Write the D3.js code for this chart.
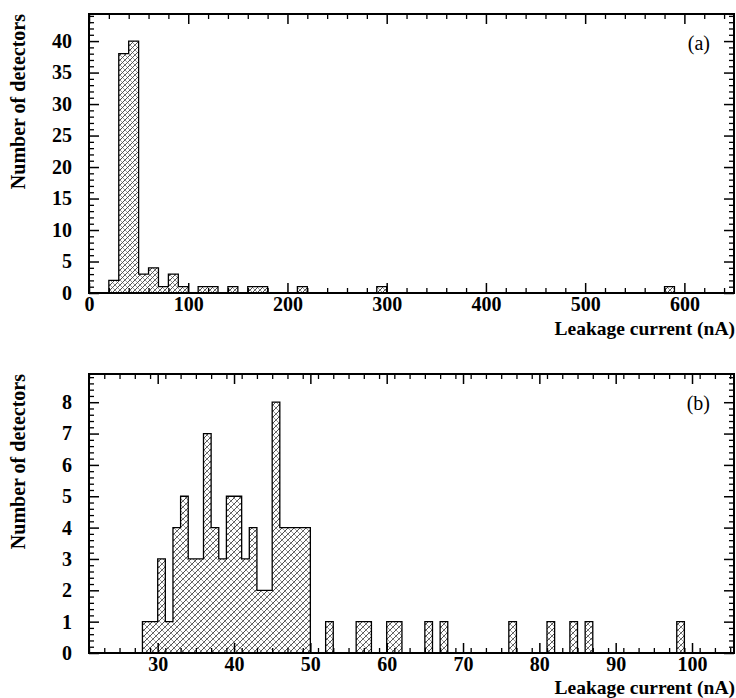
<!DOCTYPE html>
<html>
<head>
<meta charset="utf-8">
<script src="https://cdn.jsdelivr.net/npm/d3@7"></script>
<style>
    body { margin: 0; background: #fff; }
</style>
</head>
<body>
<svg id="chart"></svg>
<script>
// panel (a): 10 nA bins, lower edge + count
var edgesA = [20, 30, 40, 50, 60, 70, 80, 90, 110, 120, 140, 160, 170, 210, 290, 580]
var countsA = [2, 38, 40, 3, 4, 1, 3, 1, 1, 1, 1, 1, 1, 1, 1, 1]
var xTicksA = [0, 100, 200, 300, 400, 500, 600]
var yTicksA = [0, 5, 10, 15, 20, 25, 30, 35, 40]

// panel (b): 1 nA bins
var edgesB = [28, 29, 30, 31, 32, 33, 34, 35, 36, 37, 38, 39, 40, 41, 42, 43, 44, 45, 46, 47, 48, 49,
    52, 56, 57, 60, 61, 65, 67, 76, 81, 84, 86, 98]
var countsB = [1, 1, 3, 1, 4, 5, 3, 3, 7, 4, 3, 5, 5, 3, 4, 2, 2, 8, 4, 4, 4, 4,
    1, 1, 1, 1, 1, 1, 1, 1, 1, 1, 1, 1]
var xTicksB = [30, 40, 50, 60, 70, 80, 90, 100]
var yTicksB = [0, 1, 2, 3, 4, 5, 6, 7, 8]

var dimensions = {
    width: 736,
    height: 698,
    left: 89,
    right: 734
}

var font = "'Liberation Serif', 'Times New Roman', serif"

var svg = d3.select("#chart")
    .attr("width", dimensions.width)
    .attr("height", dimensions.height)

// cross hatch fill
var defs = svg.append("defs")
function hatch(id, s) {
    var pat = defs.append("pattern")
        .attr("id", id)
        .attr("patternUnits", "userSpaceOnUse")
        .attr("width", s)
        .attr("height", s)
    pat.append("path")
        .attr("d", "M0," + s + "L" + s + ",0M-1,1L1,-1M" + (s - 1) + "," + (s + 1) + "L" + (s + 1) + "," + (s - 1))
        .attr("stroke", "#111")
        .attr("stroke-width", 0.75)
    pat.append("path")
        .attr("d", "M0,0L" + s + "," + s + "M-1," + (s - 1) + "L1," + (s + 1) + "M" + (s - 1) + ",-1L" + (s + 1) + ",1")
        .attr("stroke", "#555")
        .attr("stroke-width", 0.6)
}
hatch("hatchA", 5)
hatch("hatchB", 6)

function outlinePath(edges, counts, w, x, y) {
    var p = d3.path()
    var i = 0
    while (i < edges.length) {
        p.moveTo(x(edges[i]), y(0))
        var j = i
        while (true) {
            p.lineTo(x(edges[j]), y(counts[j]))
            p.lineTo(x(edges[j] + w), y(counts[j]))
            if (j + 1 < edges.length && edges[j + 1] === edges[j] + w) j++
            else break
        }
        p.lineTo(x(edges[j] + w), y(0))
        p.closePath()
        i = j + 1
    }
    return p.toString()
}

function styleText(sel, weight, size) {
    sel.attr("font-family", font)
        .attr("font-size", size || 20)
        .attr("font-weight", weight)
        .attr("fill", "black")
}

function drawPanel(opt) {
    var top = opt.top, bottom = opt.bottom
    var x = d3.scaleLinear().domain(opt.xDomain).range([dimensions.left, dimensions.right])
    var y = d3.scaleLinear().domain(opt.yDomain).range([bottom, top])
    var g = svg.append("g")

    g.append("path")
        .attr("d", outlinePath(opt.edges, opt.counts, opt.binWidth, x, y))
        .attr("fill", "url(#" + opt.hatch + ")")
        .attr("stroke", "black")
        .attr("stroke-width", 1.3)

    var xMinor = d3.range(opt.xDomain[0], opt.xDomain[1], opt.xMinor).filter(function (v) {
        return opt.xTicks.indexOf(v) < 0
    })
    var yMinor = d3.range(0, opt.yDomain[1], opt.yMinor).map(function (v) {
        return +v.toFixed(2)
    }).filter(function (v) { return opt.yTicks.indexOf(v) < 0 })

    var axes = [
        { gen: d3.axisBottom, scale: x, pos: "translate(0," + bottom + ")", major: opt.xTicks, minor: xMinor, label: true, pad: 4 },
        { gen: d3.axisTop, scale: x, pos: "translate(0," + top + ")", major: opt.xTicks, minor: xMinor, label: false },
        { gen: d3.axisLeft, scale: y, pos: "translate(" + dimensions.left + ",0)", major: opt.yTicks, minor: yMinor, label: true, pad: 17 },
        { gen: d3.axisRight, scale: y, pos: "translate(" + dimensions.right + ",0)", major: opt.yTicks, minor: yMinor, label: false }
    ]
    axes.forEach(function (a) {
        var major = g.append("g")
            .attr("transform", a.pos)
            .call(a.gen(a.scale)
                .tickValues(a.major)
                .tickSize(-10)
                .tickSizeOuter(0)
                .tickPadding(a.pad || 0)
                .tickFormat(a.label ? d3.format("d") : ""))
        major.select(".domain").remove()
        major.selectAll("line").attr("stroke-width", 1.5)
        styleText(major.selectAll("text"), "bold")
        if (a.gen === d3.axisBottom) major.selectAll("text").attr("dy", "0.71em")

        var minor = g.append("g")
            .attr("transform", a.pos)
            .call(a.gen(a.scale)
                .tickValues(a.minor)
                .tickSize(-5)
                .tickSizeOuter(0)
                .tickFormat(""))
        minor.select(".domain").remove()
        minor.selectAll("line").attr("stroke-width", 1.3)
    })

    g.append("rect")
        .attr("x", dimensions.left)
        .attr("y", top)
        .attr("width", dimensions.right - dimensions.left)
        .attr("height", bottom - top)
        .attr("fill", "none")
        .attr("stroke", "black")
        .attr("stroke-width", 2)

    g.append("text")
        .attr("x", dimensions.right + 1)
        .attr("y", bottom + opt.titleGap)
        .attr("text-anchor", "end")
        .text("Leakage current (nA)")
        .call(styleText, "bold", 19.5)

    g.append("text")
        .attr("transform", "translate(25," + top + ") rotate(-90)")
        .attr("text-anchor", "end")
        .text("Number of detectors")
        .call(styleText, "bold")

    g.append("text")
        .attr("x", 710)
        .attr("y", top + 36)
        .attr("text-anchor", "end")
        .text(opt.tag)
        .call(styleText, "normal")
}

drawPanel({
    top: 14, bottom: 293, titleGap: 42,
    xDomain: [0, 650], yDomain: [0, 44.3],
    edges: edgesA, counts: countsA, binWidth: 10,
    xTicks: xTicksA, yTicks: yTicksA, xMinor: 20, yMinor: 1,
    hatch: "hatchA", tag: "(a)"
})

drawPanel({
    top: 374, bottom: 653, titleGap: 41,
    xDomain: [21, 105.5], yDomain: [0, 8.9],
    edges: edgesB, counts: countsB, binWidth: 1,
    xTicks: xTicksB, yTicks: yTicksB, xMinor: 2, yMinor: 0.2,
    hatch: "hatchB", tag: "(b)"
})
</script>
</body>
</html>
